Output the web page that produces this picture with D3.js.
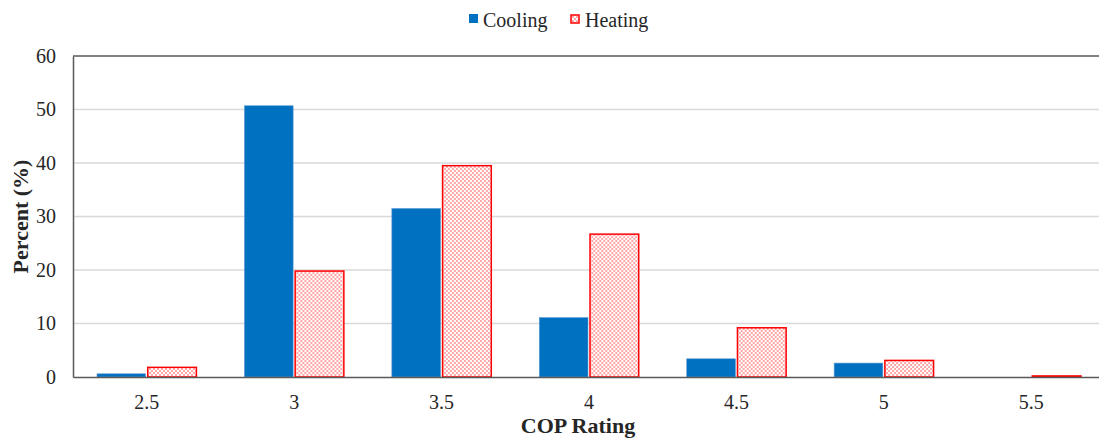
<!DOCTYPE html>
<html>
<head>
<meta charset="utf-8">
<script src="https://cdn.jsdelivr.net/npm/d3@7"></script>
<style>
  body { margin: 0; background: #fff; }
</style>
</head>
<body>
<svg id="chart" width="1099" height="439"></svg>
<script>
// data
let categories = ["2.5", "3", "3.5", "4", "4.5", "5", "5.5"];
let seriesNames = ["Cooling", "Heating"];
let cooling = [0.6, 50.7, 31.5, 11.1, 3.4, 2.6, 0];
let heating = [1.8, 19.8, 39.5, 26.7, 9.2, 3.1, 0.2];
let yTicks = [0, 10, 20, 30, 40, 50, 60];

let svg = d3.select("#chart");
let margin = {left: 73, top: 56, right: -6, bottom: 62};
let width = 1099 - margin.left - margin.right;
let height = 439 - margin.top - margin.bottom;

// dotted pink fill for heating bars
let defs = svg.append("defs");
let pat = defs.append("pattern")
  .attr("id", "dots")
  .attr("patternUnits", "userSpaceOnUse")
  .attr("width", 4).attr("height", 4);
pat.append("rect").attr("width", 4).attr("height", 4).attr("fill", "#fff");
pat.append("rect").attr("x", 0).attr("y", 0).attr("width", 2).attr("height", 2).attr("fill", "#ffa6a6");
pat.append("rect").attr("x", 2).attr("y", 2).attr("width", 2).attr("height", 2).attr("fill", "#ffa6a6");

let g = svg.append("g").attr("transform", `translate(${margin.left},${margin.top})`);

let x = d3.scaleBand().domain(categories).range([0, width]);
let x1 = d3.scaleBand().domain(seriesNames).range([24, x.bandwidth() - 24]).paddingInner(0.04);
let y = d3.scaleLinear().domain([0, 60]).range([height, 0]);

// gridlines
g.append("g")
  .selectAll("line")
  .data(yTicks.filter(d => d > 0 && d < 60))
  .join("line")
  .attr("x1", 0).attr("x2", width)
  .attr("y1", d => y(d)).attr("y2", d => y(d))
  .attr("stroke", "#d9d9d9").attr("stroke-width", 1.3);

// top border
g.append("line")
  .attr("x1", 0).attr("x2", width)
  .attr("y1", 0).attr("y2", 0)
  .attr("stroke", "#595959").attr("stroke-width", 1.5);

let rows = categories.map((c, i) => ({cat: c, Cooling: cooling[i], Heating: heating[i]}));

let groups = g.append("g").selectAll("g")
  .data(rows)
  .join("g")
  .attr("transform", d => `translate(${x(d.cat)},0)`);

groups.append("rect")
  .attr("x", x1("Cooling"))
  .attr("width", x1.bandwidth())
  .attr("y", d => y(d.Cooling))
  .attr("height", d => y(0) - y(d.Cooling))
  .attr("fill", "#0070c0")
  .attr("stroke", "#5b9bd5").attr("stroke-width", 0.6);

groups.append("rect")
  .attr("x", x1("Heating"))
  .attr("width", x1.bandwidth())
  .attr("y", d => y(d.Heating))
  .attr("height", d => y(0) - y(d.Heating))
  .attr("fill", "url(#dots)")
  .attr("stroke", "#ff0000").attr("stroke-width", 1.5);

// y axis
let yAxis = g.append("g")
  .call(d3.axisLeft(y).tickValues(yTicks).tickSize(0).tickPadding(17));
yAxis.select(".domain").attr("stroke", "#595959").attr("stroke-width", 1.5);
yAxis.selectAll("text").style("font-size", "20px");

// x axis
let xAxis = g.append("g")
  .attr("transform", `translate(0,${height})`)
  .call(d3.axisBottom(x).tickSize(0).tickPadding(18));
xAxis.select(".domain").attr("stroke", "#595959").attr("stroke-width", 1.5);
xAxis.selectAll("text").style("font-size", "20px");

// axis titles
svg.append("text")
  .attr("transform", `translate(28,${margin.top + height / 2}) rotate(-90)`)
  .attr("text-anchor", "middle")
  .style("font-size", "22px").style("font-weight", "bold")
  .text("Percent (%)");

svg.append("text")
  .attr("x", 578).attr("y", 433)
  .attr("text-anchor", "middle")
  .style("font-size", "22px").style("font-weight", "bold")
  .text("COP Rating");

// legend
let legend = svg.append("g");
legend.append("rect").attr("x", 469).attr("y", 14).attr("width", 9).attr("height", 9)
  .attr("fill", "#0070c0");
legend.append("text").attr("x", 483).attr("y", 27).style("font-size", "20px").text("Cooling");
legend.append("rect").attr("x", 571).attr("y", 15).attr("width", 8).attr("height", 8)
  .attr("fill", "url(#dots)").attr("stroke", "#ff0000").attr("stroke-width", 1.5);
legend.append("text").attr("x", 585).attr("y", 27).style("font-size", "20px").text("Heating");

// serif everywhere, like the original figure
svg.selectAll("text")
  .style("font-family", "Liberation Serif")
  .attr("fill", "#262626");
</script>
</body>
</html>
